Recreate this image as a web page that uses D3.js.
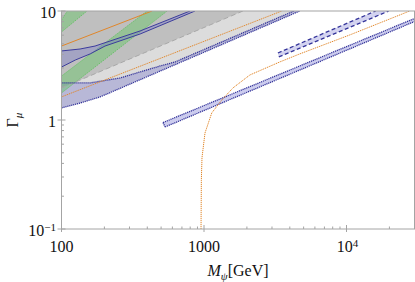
<!DOCTYPE html>
<html>
<head>
<meta charset="utf-8">
<script src="https://cdn.jsdelivr.net/npm/d3@7"></script>
<style>
 body { margin: 0; background: #fff; }
 text { font-family: "Liberation Serif", "DejaVu Serif", serif; fill: #111; }
</style>
</head>
<body>
<div id="container"></div>
<script>
 // size of the picture
 var width = 415;
 var height = 282;
 var margin = {left: 61.5, right: 0.5, top: 11, bottom: 53};

 //-----------------------------DATA------------------------------//
 // all curves as [M_psi (GeV), Gamma_mu] pairs
 var xTicksMajor = [100, 1000, 10000];
 var xTickLabels = ["100", "1000", "10^4"];
 var yTicksMajor = [0.1, 1, 10];
 var yTickLabels = ["10^-1", "1", "10"];

 // big grey excluded wedge: lower boundary = lower edge of the dotted blue band
 var lavLower = [[100, 1.29], [135, 1.43], [187, 1.63], [4700, 10]];
 var lavUpper = [[100, 2.19], [159, 2.19], [258, 2.43], [356, 2.76], [492, 3.13], [627, 3.41], [4276, 10]];
 // darker grey above the dashed grey line
 var greyDashed = [[100, 1.97], [1876, 10]];

 // green bands
 var greenSmallUpper = [[100, 8.27], [110, 10]];
 var greenSmallLower = [[100, 6.42], [151, 10]];
 var greenUpper = [[100, 2.53], [399, 10]];
 var greenLower = [[100, 1.77], [551, 10]];

 // solid navy band (upper left)
 var navyUpper = [[100, 4.30], [135, 4.48], [172, 4.77], [356, 6.56], [798, 10]];
 var navyLower = [[100, 3.06], [125, 3.55], [159, 4.04], [202, 4.77], [356, 6.15], [865, 10]];

 // orange lines
 var orangeTop = [[100, 4.77], [432, 10]];
 var orangeMid = [[100, 1.63], [3516, 10]];
 var orangeCurve = [[953, 0.1], [958, 0.28], [968, 0.45], [1016, 0.76], [1133, 1.16], [1330, 1.52],
                    [1597, 1.97], [2100, 2.59], [3405, 3.41], [4700, 4.04], [10540, 6.03], [27750, 10]];

 // blue band on the right (dotted edges)
 var rightUpper = [[516, 0.948], [30000, 8.54]];
 var rightLower = [[533, 0.863], [30000, 8.01]];
 // dashed blue band on the right
 var dashUpper = [[3300, 4.12], [16030, 10]];
 var dashLower = [[3350, 3.79], [19770, 10]];

 //----------------------------SCALES-----------------------------//
 var x = d3.scaleLog().domain([100, 30000]).range([margin.left, width - margin.right]);
 var y = d3.scaleLog().domain([0.1, 10]).range([height - margin.bottom, margin.top]);

 var svg = d3.select("div#container").append("svg")
     .attr("width", width)
     .attr("height", height);

 svg.append("clipPath").attr("id", "plot")
     .append("rect")
     .attr("x", x(100)).attr("y", y(10))
     .attr("width", x(30000) - x(100)).attr("height", y(0.1) - y(10));

 var line = d3.line()
     .x(function(d) { return x(d[0]); })
     .y(function(d) { return y(d[1]); });

 function band(up, low) { return up.concat(low.slice().reverse()); }

 var g = svg.append("g").attr("clip-path", "url(#plot)");

 //----------------------------FILLS------------------------------//
 g.append("path")
     .attr("d", line(lavLower.concat([[100, 10]])))
     .style("fill", "#dcdcdc");
 g.append("path")
     .attr("d", line(greyDashed.concat([[100, 10]])))
     .style("fill", "rgba(0,0,0,0.13)");

 g.append("path")
     .attr("d", line(band(lavUpper, lavLower)))
     .style("fill", "rgba(110,110,205,0.32)");

 [[greenSmallUpper, greenSmallLower], [greenUpper, greenLower]].forEach(function(b) {
     g.append("path")
         .attr("d", line(band(b[0], b[1])))
         .style("fill", "rgba(90,200,90,0.4)");
     b.forEach(function(e) {
         g.append("path").attr("d", line(e))
             .style("fill", "none").style("stroke", "#6cbf6c").style("stroke-width", 1)
             .style("stroke-dasharray", "1.5,1");
     });
 });

 g.append("path")
     .attr("d", line(band(navyUpper, navyLower)))
     .style("fill", "rgba(110,110,205,0.32)");
 g.append("path")
     .attr("d", line(band(rightUpper, rightLower)))
     .style("fill", "rgba(110,110,205,0.35)");
 g.append("path")
     .attr("d", line(band(dashUpper, dashLower)))
     .style("fill", "rgba(110,110,205,0.3)");

 //----------------------------LINES------------------------------//
 g.append("path").attr("d", line(greyDashed))
     .style("fill", "none").style("stroke", "#a8a8a8").style("stroke-dasharray", "5,3");

 [navyUpper, navyLower].forEach(function(e) {
     g.append("path").attr("d", line(e))
         .style("fill", "none").style("stroke", "#3c3c9c").style("stroke-width", 1);
 });
 [lavUpper, lavLower, rightUpper, rightLower].forEach(function(e) {
     g.append("path").attr("d", line(e))
         .style("fill", "none").style("stroke", "#34349a").style("stroke-width", 1.3)
         .style("stroke-dasharray", "1.2,0.8");
 });
 // close the left end of the right band
 g.append("path").attr("d", line([rightUpper[0], rightLower[0]]))
     .style("fill", "none").style("stroke", "#34349a").style("stroke-width", 1.3)
     .style("stroke-dasharray", "1.2,0.8");
 [dashUpper, dashLower].forEach(function(e) {
     g.append("path").attr("d", line(e))
         .style("fill", "none").style("stroke", "#34349a").style("stroke-width", 1.3)
         .style("stroke-dasharray", "4,2.5");
 });

 g.append("path").attr("d", line(orangeTop))
     .style("fill", "none").style("stroke", "#e0862a").style("stroke-width", 1);
 [orangeMid, orangeCurve].forEach(function(e) {
     g.append("path").attr("d", line(e))
         .style("fill", "none").style("stroke", "#e0862a").style("stroke-width", 1)
         .style("stroke-dasharray", "1.2,0.8");
 });

 //-----------------------------AXES------------------------------//
 var frameCol = "#a4a4a4";
 svg.append("rect")
     .attr("x", x(100)).attr("y", y(10))
     .attr("width", x(30000) - x(100)).attr("height", y(0.1) - y(10))
     .style("fill", "none").style("stroke", frameCol).style("stroke-width", 1);

 var xMinor = [], yMinor = [];
 [100, 1000, 10000].forEach(function(d) {
     for (var k = 2; k < 10; k++) if (d * k < 30000) xMinor.push(d * k);
 });
 [0.1, 1].forEach(function(d) {
     for (var k = 2; k < 10; k++) yMinor.push(d * k);
 });

 var yb = y(0.1), xl = x(100);
 xTicksMajor.forEach(function(d) {
     svg.append("line").attr("x1", x(d)).attr("x2", x(d)).attr("y1", yb - 4).attr("y2", yb + 3)
         .style("stroke", frameCol);
 });
 xMinor.forEach(function(d) {
     svg.append("line").attr("x1", x(d)).attr("x2", x(d)).attr("y1", yb - 2.5).attr("y2", yb)
         .style("stroke", frameCol);
 });
 yTicksMajor.forEach(function(d) {
     svg.append("line").attr("x1", xl - 4).attr("x2", xl + 4).attr("y1", y(d)).attr("y2", y(d))
         .style("stroke", frameCol);
 });
 yMinor.forEach(function(d) {
     svg.append("line").attr("x1", xl).attr("x2", xl + 2.5).attr("y1", y(d)).attr("y2", y(d))
         .style("stroke", frameCol);
 });

 function writeLabel(t, s) {
     var p = s.split("^");
     t.append("tspan").text(p[0]);
     if (p.length > 1)
         t.append("tspan").attr("dy", "-0.45em").style("font-size", "11px")
             .text(p[1].replace("-", "\u2212"));
 }

 xTicksMajor.forEach(function(d, i) {
     var t = svg.append("text")
         .attr("x", x(d) + (i == 2 ? 1 : 0)).attr("y", yb + 23)
         .style("font-size", "16px").style("text-anchor", "middle");
     writeLabel(t, xTickLabels[i]);
 });
 yTicksMajor.forEach(function(d, i) {
     var t = svg.append("text")
         .attr("x", 56).attr("y", y(d) + 6.5)
         .style("font-size", "16px").style("text-anchor", "end");
     writeLabel(t, yTickLabels[i]);
 });

 // axis titles
 var xt = svg.append("text")
     .attr("x", (x(100) + x(30000)) / 2).attr("y", 275.5)
     .style("font-size", "16px").style("text-anchor", "middle");
 xt.append("tspan").style("font-style", "italic").text("M");
 xt.append("tspan").attr("dy", 4).style("font-size", "11px").style("font-style", "italic").text("\u03c8");
 xt.append("tspan").attr("dy", -4).text("[GeV]");

 var yt = svg.append("text")
     .attr("transform", "translate(17.5," + ((y(10) + y(0.1)) / 2) + ") rotate(-90)")
     .style("font-size", "16px").style("text-anchor", "middle");
 yt.append("tspan").text("\u0393");
 yt.append("tspan").attr("dy", 4).style("font-size", "11px").style("font-style", "italic").text("\u03bc");
</script>
</body>
</html>
